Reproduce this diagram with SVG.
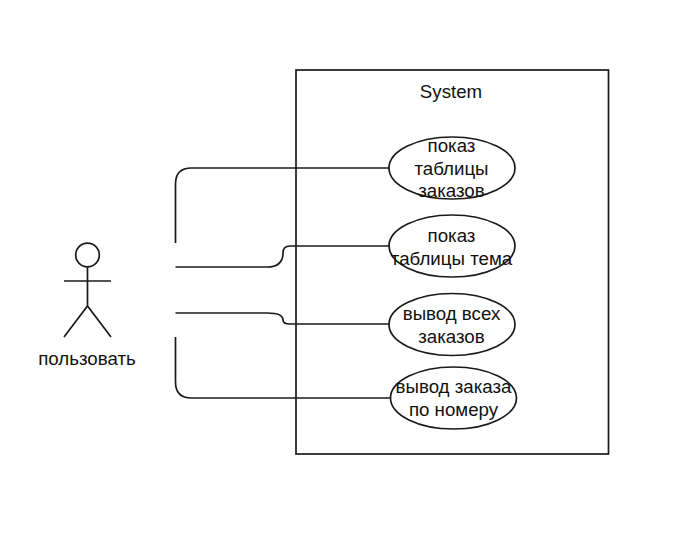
<svg xmlns="http://www.w3.org/2000/svg" width="680" height="534" viewBox="0 0 680 534">
<style>
.s{fill:none;stroke:#1a1a1a;stroke-width:1.7}
.e{fill:#fff;stroke:#1a1a1a;stroke-width:1.7}
text{font-family:"Liberation Sans",Arial,sans-serif;font-size:18.7px;fill:#111;text-anchor:middle}
</style>
<rect width="680" height="534" fill="#fff"/>
<g id="system"><rect class="s" x="296" y="70" width="312.500" height="384"/><text x="451" y="98">System</text></g>
<g id="connectors">
<path class="s" d="M175.500 243V184Q175.500 168 191.500 168H390"/>
<path class="s" d="M175.500 267H267Q283 267 283 253Q283 246 290 246H390"/>
<path class="s" d="M175.500 313H267Q283 313 283 320Q283 324 290 324H390"/>
<path class="s" d="M175.500 337V382Q175.500 398 191.500 398H392"/>
</g>
<g id="actor">
<circle class="s" cx="87.500" cy="255" r="11.800"/>
<path class="s" d="M87.500 267V306M64 281H111M64 337L87.500 306L111 337"/>
<text x="87" y="365">пользовать</text>
</g>
<g id="uc1"><ellipse class="e" cx="452" cy="168" rx="63" ry="31"/><text x="451.500" y="152">показ</text><text x="451.500" y="175">таблицы</text><text x="451.500" y="197">заказов</text></g>
<g id="uc2"><ellipse class="e" cx="452" cy="246" rx="63" ry="31"/><text x="451.500" y="242">показ</text><text x="451.500" y="265">таблицы тема</text></g>
<g id="uc3"><ellipse class="e" cx="452" cy="324.500" rx="63" ry="31"/><text x="451.500" y="319.500">вывод всех</text><text x="451.500" y="342.500">заказов</text></g>
<g id="uc4"><ellipse class="e" cx="453.500" cy="398" rx="63" ry="31"/><text x="453.500" y="393">вывод заказа</text><text x="453.500" y="416">по номеру</text></g>
</svg>
